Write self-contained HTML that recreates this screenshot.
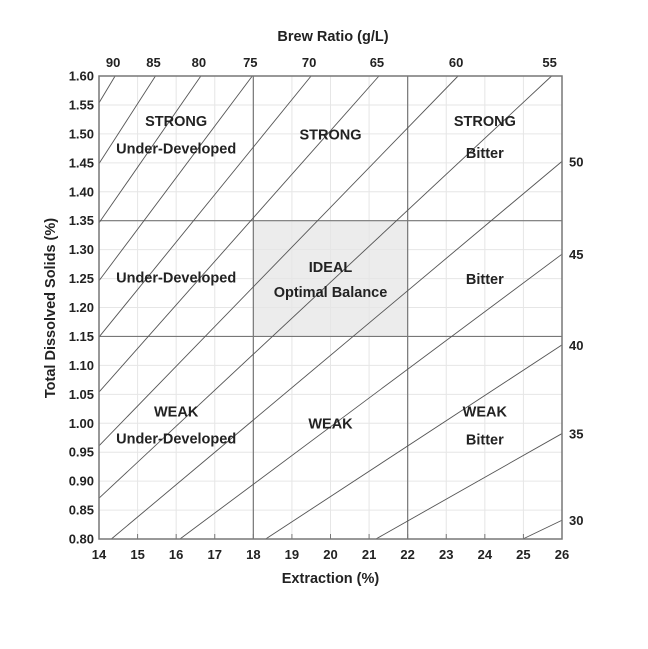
<!DOCTYPE html>
<html><head><meta charset="utf-8"><style>
body{margin:0;background:#fff;width:648px;height:644px;overflow:hidden}
text{font-family:"Liberation Sans",Arial,sans-serif;font-weight:bold;fill:#222}
</style></head><body>
<svg id="chart" width="648" height="644" viewBox="0 0 648 644"></svg>
<script>
const xTicks=[14,15,16,17,18,19,20,21,22,23,24,25,26];
const yTicks=[0.80,0.85,0.90,0.95,1.00,1.05,1.10,1.15,1.20,1.25,1.30,1.35,1.40,1.45,1.50,1.55,1.60];
const ratios=[90,85,80,75,70,65,60,55,50,45,40,35,30];
const retention=2.1;
const idealE=[18,22];
const idealT=[1.15,1.35];
const zoneLabels=[
 [16,1.522,"STRONG"],[16,1.475,"Under-Developed"],
 [20,1.499,"STRONG"],
 [24,1.522,"STRONG"],[24,1.467,"Bitter"],
 [16,1.252,"Under-Developed"],
 [20,1.27,"IDEAL"],[20,1.227,"Optimal Balance"],
 [24,1.249,"Bitter"],
 [16,1.02,"WEAK"],[16,0.974,"Under-Developed"],
 [20,1.0,"WEAK"],
 [24,1.02,"WEAK"],[24,0.972,"Bitter"]
];
const L=99,R=562,T=76,B=539;
const X=e=>L+(e-14)*(R-L)/12;
const Y=t=>B-(t-0.8)*(B-T)/0.8;
const svg=document.getElementById('chart');
const NS="http://www.w3.org/2000/svg";
function mk(tag,attrs,txt){const el=document.createElementNS(NS,tag);for(const k in attrs)el.setAttribute(k,attrs[k]);if(txt!==undefined)el.textContent=txt;svg.appendChild(el);return el;}
let ib=mk('rect',{x:X(idealE[0]),y:Y(idealT[1]),width:X(idealE[1])-X(idealE[0]),height:Y(idealT[0])-Y(idealT[1]),fill:'#ececec'});


xTicks.forEach(e=>{const g=mk('line',{x1:X(e),x2:X(e),y1:T,y2:B,stroke:'#e6e6e6','stroke-width':1});


const t=mk('line',{x1:X(e),x2:X(e),y1:B,y2:B-5,stroke:'#777'});


const l=mk('text',{x:X(e),y:B+20,'text-anchor':'middle','font-size':13},String(e));

});
yTicks.forEach(v=>{const g=mk('line',{x1:L,x2:R,y1:Y(v),y2:Y(v),stroke:'#e6e6e6','stroke-width':1});


const l=mk('text',{x:L-5,y:Y(v)+4.5,'text-anchor':'end','font-size':13},v.toFixed(2));

});
idealE.forEach(e=>{const d=mk('line',{x1:X(e),x2:X(e),y1:T,y2:B,stroke:'#777','stroke-width':1.2});

});
idealT.forEach(t=>{const d=mk('line',{x1:L,x2:R,y1:Y(t),y2:Y(t),stroke:'#777','stroke-width':1.2});

});
ratios.forEach(r=>{
 const k=r/(1000-retention*r);
 let e1=Math.max(14,0.8/k),e2=Math.min(26,1.6/k);
 const ln=mk('line',{x1:X(e1),y1:Y(e1*k),x2:X(e2),y2:Y(e2*k),stroke:'#555','stroke-width':0.9});
 
 
 let lb;
 if(1.6/k<=26){lb=mk('text',{x:X(1.6/k)-2,y:T-9,'text-anchor':'middle','font-size':13},String(r));}
 else{lb=mk('text',{x:R+7,y:Y(26*k)+5,'font-size':13},String(r));}
 
 
});
const fr=mk('rect',{x:L,y:T,width:R-L,height:B-T,fill:'none',stroke:'#777','stroke-width':1.5});


zoneLabels.forEach(z=>{const t=mk('text',{x:X(z[0]),y:Y(z[1])+5,'text-anchor':'middle','font-size':14.5},z[2]);

});
let a=mk('text',{x:(L+R)/2,y:583,'text-anchor':'middle','font-size':14.5},'Extraction (%)');


a=mk('text',{x:333,y:41,'text-anchor':'middle','font-size':14.5},'Brew Ratio (g/L)');


a=mk('text',{x:0,y:0,'text-anchor':'middle','font-size':14.5,transform:'translate(55,308) rotate(-90)'},'Total Dissolved Solids (%)');


</script>
</body></html>
